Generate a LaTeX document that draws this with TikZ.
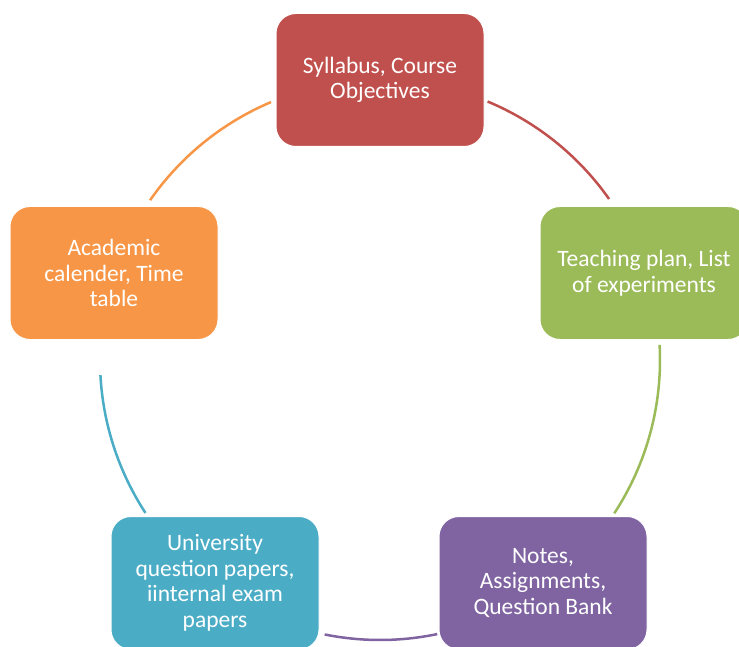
\documentclass[tikz,border=0pt]{standalone}
\usepackage{fontspec}
\setmainfont{Carlito}
\definecolor{cred}{HTML}{C0504D}
\definecolor{cgreen}{HTML}{9BBB59}
\definecolor{cpurple}{HTML}{8064A2}
\definecolor{ccyan}{HTML}{4BACC6}
\definecolor{corange}{HTML}{F79646}
\begin{document}
\begin{tikzpicture}[x=1pt,y=-1pt]
\tikzset{
  box/.style={rounded corners=20pt, minimum width=208pt, minimum height=133pt,
    draw=white, line width=1pt, text=white, align=center,
    font=\fontsize{23.5}{25.5}\selectfont, inner sep=0pt},
  ring/.style={line width=2.5pt}
}
\useasboundingbox (0,0) rectangle (739,647);
\clip (0,0) rectangle (739,647);
\coordinate (C) at (380,360);
% arcs
\draw[ring, cred]    ([shift={(67.4:280pt)}]C)  coordinate (a1) arc[start angle=67.4, end angle=35.1, radius=280pt] coordinate (b1);
\draw[ring, cgreen]  ([shift={(3.1:280pt)}]C)   coordinate (a2) arc[start angle=3.1, end angle=-33.2, radius=280pt] coordinate (b2);
\draw[ring, cpurple] ([shift={(-78.2:280pt)}]C) coordinate (a3) arc[start angle=-78.2, end angle=-101.4, radius=280pt] coordinate (b3);
\draw[ring, ccyan]   ([shift={(-146.9:280pt)}]C) coordinate (a4) arc[start angle=-146.9, end angle=-176.9, radius=280pt] coordinate (b4);
\draw[ring, corange] ([shift={(145.2:280pt)}]C) coordinate (a5) arc[start angle=145.2, end angle=112.9, radius=280pt] coordinate (b5);
% boxes
\node[box, fill=cred]    (syl)  at (380,80)  {Syllabus, Course\\Objectives};
\node[box, fill=cgreen]  (teach) at (644,273) {Teaching plan, List\\of experiments};
\node[box, fill=cpurple] (notes) at (543,583) {Notes,\\Assignments,\\Question Bank};
\node[box, fill=ccyan]   (univ) at (215,583) {University\\question papers,\\iinternal exam\\papers};
\node[box, fill=corange] (acad) at (114,273) {Academic\\calender, Time\\table};
\end{tikzpicture}
\end{document}
